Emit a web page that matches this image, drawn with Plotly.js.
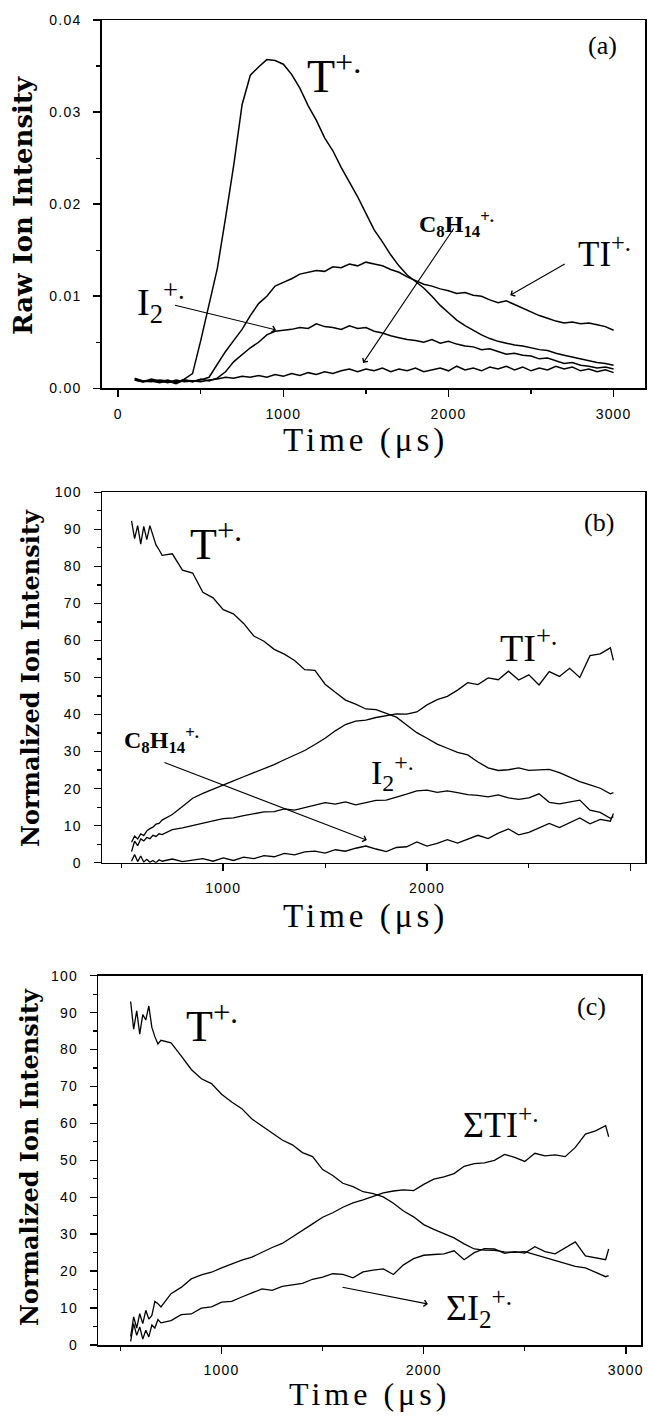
<!DOCTYPE html>
<html>
<head>
<meta charset="utf-8">
<script src="https://cdn.plot.ly/plotly-3.0.1.min.js"></script>
<style>
  html, body { margin: 0; padding: 0; background: #fff; }
  #chart { width: 648px; height: 1416px; }
  .xtick text, .ytick text, .x2tick text, .y2tick text, .x3tick text, .y3tick text { letter-spacing: 1.2px; }
</style>
<style id="dyn"></style>
</head>
<body>
<div id="chart"></div>
<script>
// ---------------- DATA ----------------
// Panel (a): raw ion intensity vs time (us)
const timeA = [100,150,200,250,300,350,400,450,500,550,600,650,700,750,800,850,900,950,1000,1050,1100,1150,1200,1250,1300,1350,1400,1450,1500,1550,1600,1650,1700,1750,1800,1850,1900,1950,2000,2050,2100,2150,2200,2250,2300,2350,2400,2450,2500,2550,2600,2650,2700,2750,2800,2850,2900,2950,3000];
const rawT = [0.0011,0.0008,0.0009,0.0007,0.0009,0.0006,0.0010,0.0016,0.0052,0.0090,0.0130,0.0185,0.0243,0.0308,0.0340,0.0349,0.0357,0.0356,0.0352,0.0341,0.0326,0.0307,0.0291,0.0272,0.0258,0.0240,0.0224,0.0208,0.0190,0.0172,0.0159,0.0145,0.0133,0.0123,0.0116,0.0109,0.0100,0.0090,0.0082,0.0074,0.0068,0.0063,0.0058,0.0054,0.0051,0.0049,0.0047,0.0046,0.0044,0.0042,0.0041,0.0038,0.0036,0.0034,0.0032,0.0030,0.0028,0.0027,0.0025];
const rawTI = [0.0009,0.0007,0.0010,0.0008,0.0006,0.0009,0.0007,0.0008,0.0009,0.0012,0.0026,0.0040,0.0052,0.0064,0.0079,0.0092,0.0100,0.0111,0.0115,0.0119,0.0124,0.0126,0.0128,0.0127,0.0132,0.0131,0.0135,0.0133,0.0137,0.0135,0.0133,0.0129,0.0126,0.0121,0.0117,0.0113,0.0111,0.0108,0.0106,0.0103,0.0104,0.0101,0.0100,0.0096,0.0093,0.0095,0.0091,0.0087,0.0083,0.0079,0.0076,0.0073,0.0071,0.0072,0.0070,0.0071,0.0069,0.0067,0.0063];
const rawI2 = [0.0010,0.0008,0.0007,0.0009,0.0008,0.0005,0.0009,0.0007,0.0010,0.0008,0.0011,0.0018,0.0029,0.0037,0.0044,0.0050,0.0058,0.0062,0.0063,0.0064,0.0066,0.0065,0.0070,0.0067,0.0066,0.0064,0.0068,0.0065,0.0066,0.0062,0.0060,0.0057,0.0055,0.0053,0.0052,0.0050,0.0053,0.0049,0.0051,0.0048,0.0046,0.0045,0.0042,0.0043,0.0040,0.0037,0.0038,0.0036,0.0035,0.0032,0.0033,0.0030,0.0027,0.0028,0.0025,0.0024,0.0022,0.0023,0.0021];
const rawC8H14 = [0.0009,0.0007,0.0008,0.0006,0.0008,0.0007,0.0009,0.0008,0.0007,0.0009,0.0010,0.0012,0.0011,0.0013,0.0012,0.0014,0.0012,0.0015,0.0013,0.0016,0.0014,0.0017,0.0015,0.0018,0.0016,0.0019,0.0021,0.0018,0.0021,0.0019,0.0022,0.0018,0.0021,0.0019,0.0022,0.0018,0.0020,0.0022,0.0019,0.0024,0.0020,0.0022,0.0019,0.0023,0.0021,0.0024,0.0020,0.0023,0.0019,0.0022,0.0020,0.0024,0.0021,0.0023,0.0019,0.0021,0.0018,0.0020,0.0017];

// Panel (b): normalized ion intensity
const timeB = [550,565,580,595,610,625,640,655,670,685,700,750,800,850,900,950,1000,1050,1100,1150,1200,1250,1300,1350,1400,1450,1500,1550,1600,1650,1700,1750,1800,1850,1900,1950,2000,2050,2100,2150,2200,2250,2300,2350,2400,2450,2500,2550,2600,2650,2700,2750,2800,2850,2900,2915];
const normT = [92.3,87.5,91.0,86.0,90.8,87.2,91.0,88.5,85.8,84.5,83.0,83.4,79.0,78.2,73.0,71.5,68.3,67.2,64.6,61.2,59.8,57.6,56.3,54.6,52.1,51.9,48.2,46.0,43.9,42.8,41.5,41.3,40.4,39.3,37.2,35.1,33.6,32.0,30.9,29.8,29.1,27.2,25.6,24.9,25.1,25.6,24.9,25.0,25.2,24.3,23.1,21.9,21.0,20.1,18.6,18.9];
const normTI = [5.5,7.2,6.4,7.8,7.3,8.6,9.2,9.6,10.4,10.6,11.5,13.0,15.2,17.4,18.7,19.9,21.0,22.1,23.2,24.3,25.3,26.5,27.8,29.1,30.3,31.9,33.6,35.6,37.3,38.2,38.5,39.2,39.6,40.2,40.1,40.7,42.6,44.0,44.9,46.6,48.6,48.1,49.9,49.4,51.7,49.3,50.7,48.0,51.6,50.3,52.5,50.0,55.9,56.4,58.0,54.6];
const normI2 = [3.0,5.8,4.6,6.4,5.9,6.8,6.5,7.4,7.1,7.8,7.6,8.9,9.4,10.1,10.6,11.3,11.9,12.1,12.7,13.3,13.7,13.8,14.5,14.2,14.9,15.5,16.2,15.8,16.4,15.6,16.3,16.8,16.9,17.6,18.5,19.4,19.6,19.0,19.4,18.9,18.4,18.2,17.8,18.3,17.5,17.1,17.5,18.6,16.3,15.9,16.4,16.9,14.2,13.6,12.0,12.4];
const normC8H14 = [0.4,2.2,0.3,1.8,0.2,0.9,0.1,0.6,0.0,0.8,0.4,1.0,0.3,0.7,1.1,0.4,1.3,0.6,1.5,1.1,1.9,1.6,2.5,2.1,2.9,3.1,2.6,3.5,3.1,3.9,4.5,3.7,3.0,4.1,4.3,5.6,4.5,5.2,6.2,5.3,6.4,7.4,6.5,8.0,9.1,7.5,8.2,9.3,10.6,9.5,10.9,12.1,10.5,11.7,11.2,13.3];

// Panel (c): summed normalized ion intensity
const timeC = [550,565,580,595,610,625,640,655,670,685,700,750,800,850,900,950,1000,1050,1100,1150,1200,1250,1300,1350,1400,1450,1500,1550,1600,1650,1700,1750,1800,1850,1900,1950,2000,2050,2100,2150,2200,2250,2300,2350,2400,2450,2500,2550,2600,2650,2700,2750,2800,2850,2900,2915];
const sumT = [93.0,85.5,90.5,84.2,89.5,88.0,91.8,86.0,83.5,81.5,82.5,81.8,78.3,74.6,72.1,70.8,67.9,65.8,64.0,61.2,59.3,57.3,55.5,54.2,52.1,51.0,47.5,45.9,43.8,42.9,41.5,41.0,40.1,38.4,36.3,34.7,32.6,31.3,30.1,29.0,27.4,26.0,25.7,25.6,25.2,25.1,25.3,24.5,23.9,23.0,22.2,21.3,20.9,19.8,18.5,18.8];
const sumTI = [2.3,7.6,4.6,8.5,5.8,9.4,7.0,8.0,11.8,11.2,10.3,13.9,15.6,17.9,19.0,19.7,20.9,22.0,23.0,23.8,25.2,26.4,27.5,29.2,30.9,32.8,34.6,35.8,37.3,38.5,39.3,40.2,41.2,41.7,42.0,41.8,43.5,44.9,45.5,46.4,48.4,49.1,49.3,50.0,51.6,50.8,49.7,51.9,51.2,51.5,51.0,53.5,57.1,58.0,59.4,56.4];
const sumI2 = [1.0,5.8,2.6,4.9,1.6,4.0,2.2,5.4,4.6,6.9,6.0,6.6,8.2,8.4,10.0,10.3,11.6,11.8,13.0,14.1,15.2,14.8,15.9,16.3,16.7,17.8,18.4,19.3,19.1,18.2,19.8,20.3,20.6,19.1,21.7,23.4,24.3,24.5,24.7,25.5,23.1,25.0,26.1,26.0,24.8,25.3,24.9,26.6,25.3,24.7,26.4,27.9,24.1,23.5,23.1,26.0];

// Tick labels
const xTicksA = [0,1000,2000,3000];
const xTickTextA = ['0','1000','2000','3000'];
const yTicksA = [0,0.01,0.02,0.03,0.04];
const yTickTextA = ['0.00','0.01','0.02','0.03','0.04'];
const xTicksBC = [1000,2000,3000];
const xTickTextBC = ['1000','2000','3000'];
const yTicksBC = [0,10,20,30,40,50,60,70,80,90,100];
const yTickTextBC = ['0','10','20','30','40','50','60','70','80','90','100'];

// ---------------- LAYOUT ----------------
const W = 648, H = 1416;
const PX = x => x / W;
const PY = y => 1 - y / H;

const tickFont = {family: 'Liberation Sans, Arial, sans-serif', size: 14, color: '#000'};
function axis(extra) {
  return Object.assign({
    showline: true, linecolor: '#000', linewidth: 1.5, mirror: true,
    ticks: 'outside', ticklen: 7, tickwidth: 1.5, tickcolor: '#000',
    showgrid: false, zeroline: false, tickfont: tickFont, fixedrange: true,
    tickmode: 'array'
  }, extra);
}
const minorX = {tickvals: [500,1500,2500], ticks: 'outside', ticklen: 4, tickwidth: 1.2, tickcolor: '#000', showgrid: false};

const layout = {
  width: W, height: H,
  margin: {l: 0, r: 0, t: 0, b: 0},
  paper_bgcolor: '#fff', plot_bgcolor: '#fff',
  showlegend: false,
  xaxis: axis({domain: [PX(101.7), PX(645)], anchor: 'y', range: [-100, 3190], tickvals: xTicksA, ticktext: xTickTextA, minor: minorX, ticklabelstandoff: 5}),
  yaxis: axis({domain: [PY(388.3), PY(20)], anchor: 'x', range: [0, 0.04], tickvals: yTicksA, ticktext: yTickTextA, ticklabelstandoff: 9,
    minor: {tickvals: [0.005,0.015,0.025,0.035], ticks: 'outside', ticklen: 4, tickwidth: 1.2, tickcolor: '#000', showgrid: false}}),
  xaxis2: axis({domain: [PX(102), PX(645)], anchor: 'y2', range: [405, 3070], tickvals: xTicksBC, ticktext: xTickTextBC, minor: minorX, ticklabelstandoff: 5}),
  yaxis2: axis({domain: [PY(862.7), PY(492.3)], anchor: 'x2', range: [0, 100], tickvals: yTicksBC, ticktext: yTickTextBC, ticklabelstandoff: 9,
    minor: {dtick: 5, tick0: 0, ticks: 'outside', ticklen: 4, tickwidth: 1.2, tickcolor: '#000', showgrid: false}}),
  xaxis3: axis({domain: [PX(98.3), PX(641)], anchor: 'y3', range: [390, 3075], tickvals: xTicksBC, ticktext: xTickTextBC, minor: minorX, ticklabelstandoff: 5}),
  yaxis3: axis({domain: [PY(1345), PY(975.7)], anchor: 'x3', range: [0, 100], tickvals: yTicksBC, ticktext: yTickTextBC, ticklabelstandoff: 9,
    minor: {dtick: 5, tick0: 0, ticks: 'outside', ticklen: 4, tickwidth: 1.2, tickcolor: '#000', showgrid: false}}),
  annotations: []
};

const serif = 'Liberation Serif, Times New Roman, serif';
const ann = layout.annotations;
const spacedIdx = [];
function label(text, x, y, size, opts) {
  ann.push(Object.assign({text: text, xref: 'paper', yref: 'paper', x: PX(x), y: PY(y),
    xanchor: 'center', yanchor: 'middle', showarrow: false,
    font: {family: serif, size: size, color: '#000'}}, opts || {}));
  return ann.length - 1;
}
function arrow(xr, yr, hx, hy, tx, ty) {
  ann.push({text: '', xref: xr, yref: yr, axref: xr, ayref: yr, x: hx, y: hy, ax: tx, ay: ty,
    showarrow: true, arrowhead: 4, arrowsize: 1.1, arrowwidth: 1.1, arrowcolor: '#000', standoff: 0, startstandoff: 0});
}
const yTitleFont = s => ({family: 'DejaVu Serif, serif', size: s, color: '#000', weight: 'bold'});
const boldSerif = s => ({family: serif, size: s, color: '#000', weight: 'bold'});

// Panel (a)
label('(a)', 602, 46, 26);
label('T<sup>+.</sup>', 334, 73, 46);
label('C<sub>8</sub>H<sub>14</sub><sup>+.</sup>', 456, 224, 24, {font: boldSerif(24)});
label('TI<sup>+.</sup>', 604, 252, 35);
label('I<sub>2</sub><sup>+.</sup>', 161, 302, 38);
arrow('x', 'y', 956, 0.00634, 335, 0.00906);
arrow('x', 'y', 1483, 0.00275, 2038, 0.01752);
arrow('x', 'y', 2374, 0.0101, 2713, 0.0136);
label('Raw Ion Intensity', 23, 206, 26, {textangle: -90, font: yTitleFont(26)});
spacedIdx.push(label('Time (μs)', 366, 440, 33));

// Panel (b)
label('(b)', 599, 523, 26);
label('T<sup>+.</sup>', 216, 541, 44);
label('TI<sup>+.</sup>', 529, 645, 38);
label('C<sub>8</sub>H<sub>14</sub><sup>+.</sup>', 161, 740, 24, {font: boldSerif(24)});
label('I<sub>2</sub><sup>+.</sup>', 392, 772, 34);
arrow('x2', 'y2', 1705, 6.1, 704, 27.2);
label('Normalized Ion Intensity', 30, 678, 24, {textangle: -90, font: yTitleFont(24)});
spacedIdx.push(label('Time (μs)', 366, 916, 33));

// Panel (c)
label('(c)', 591, 1006, 26);
label('T<sup>+.</sup>', 212, 1023, 44);
label('ΣTI<sup>+.</sup>', 500, 1122, 36);
label('ΣI<sub>2</sub><sup>+.</sup>', 479, 1308, 36);
arrow('x3', 'y3', 2021, 11.1, 1591, 15.7);
label('Normalized Ion Intensity', 29, 1157, 24, {textangle: -90, font: yTitleFont(24)});
spacedIdx.push(label('Time (μs)', 369, 1394, 32));

document.getElementById('dyn').textContent = spacedIdx.map(i =>
  `.annotation[data-index="${i}"] .annotation-text { letter-spacing: 4px; }`).join('\n');

// ---------------- TRACES ----------------
const line = w => ({color: '#000', width: w});
const traces = [
  {x: timeA, y: rawT, xaxis: 'x', yaxis: 'y', mode: 'lines', line: line(1.5), name: 'T+.'},
  {x: timeA, y: rawTI, xaxis: 'x', yaxis: 'y', mode: 'lines', line: line(1.5), name: 'TI+.'},
  {x: timeA, y: rawI2, xaxis: 'x', yaxis: 'y', mode: 'lines', line: line(1.5), name: 'I2+.'},
  {x: timeA, y: rawC8H14, xaxis: 'x', yaxis: 'y', mode: 'lines', line: line(1.5), name: 'C8H14+.'},
  {x: timeB, y: normT, xaxis: 'x2', yaxis: 'y2', mode: 'lines', line: line(1.3), name: 'T+.'},
  {x: timeB, y: normTI, xaxis: 'x2', yaxis: 'y2', mode: 'lines', line: line(1.3), name: 'TI+.'},
  {x: timeB, y: normI2, xaxis: 'x2', yaxis: 'y2', mode: 'lines', line: line(1.3), name: 'I2+.'},
  {x: timeB, y: normC8H14, xaxis: 'x2', yaxis: 'y2', mode: 'lines', line: line(1.3), name: 'C8H14+.'},
  {x: timeC, y: sumT, xaxis: 'x3', yaxis: 'y3', mode: 'lines', line: line(1.3), name: 'T+.'},
  {x: timeC, y: sumTI, xaxis: 'x3', yaxis: 'y3', mode: 'lines', line: line(1.3), name: 'ΣTI+.'},
  {x: timeC, y: sumI2, xaxis: 'x3', yaxis: 'y3', mode: 'lines', line: line(1.3), name: 'ΣI2+.'}
];

Plotly.newPlot('chart', traces, layout, {staticPlot: true, displayModeBar: false});
</script>
</body>
</html>
